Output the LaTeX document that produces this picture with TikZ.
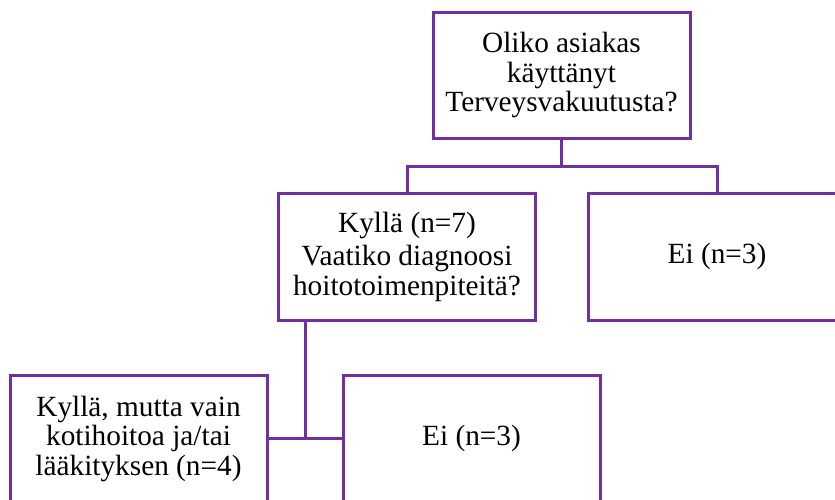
\documentclass[tikz,border=0pt]{standalone}
\usepackage{fontspec}
\setmainfont{Liberation Serif}
\usetikzlibrary{positioning}
\definecolor{boxpurple}{HTML}{7030A0}

\begin{document}
\begin{tikzpicture}[x=1pt,y=-1pt,
		qbox/.style={draw=boxpurple,line width=3pt,minimum width=257pt,minimum height=127pt,align=center,inner sep=2pt,font=\fontsize{29.3}{29.5}\selectfont},
		link/.style={draw=boxpurple,line width=3pt}]
				\useasboundingbox (0,0) rectangle (835,499);
				\clip (0,0) rectangle (835,499);
				\node[qbox,minimum height=126pt] (kaytto) at (561.5,75) {Oliko asiakas\\käyttänyt\\Terveysvakuutusta?};
				\node[qbox] (kylla) at (407,256.5) {Kyllä (n=7)\\[4pt]Vaatiko diagnoosi\\hoitotoimenpiteitä?};
				\node[qbox] (ei) at (717,256.5) {Ei (n=3)};
				\node[qbox] (koti) at (138.5,438.5) {Kyllä, mutta vain\\kotihoitoa ja/tai\\lääkityksen (n=4)};
				\node[qbox] (eihoito) at (471.5,438.5) {Ei (n=3)};
				\coordinate (haara) at (561.5,166);
				\coordinate (solmu) at (305,438.5);
				\draw[link] (kaytto.south) -- (haara);
				\draw[link] (kylla.north) |- (haara) -| (ei.north);
				\draw[link] (kylla.south -| solmu) -- (solmu);
				\draw[link] (koti.east) -- (eihoito.west);
			\end{tikzpicture}
\end{document}
